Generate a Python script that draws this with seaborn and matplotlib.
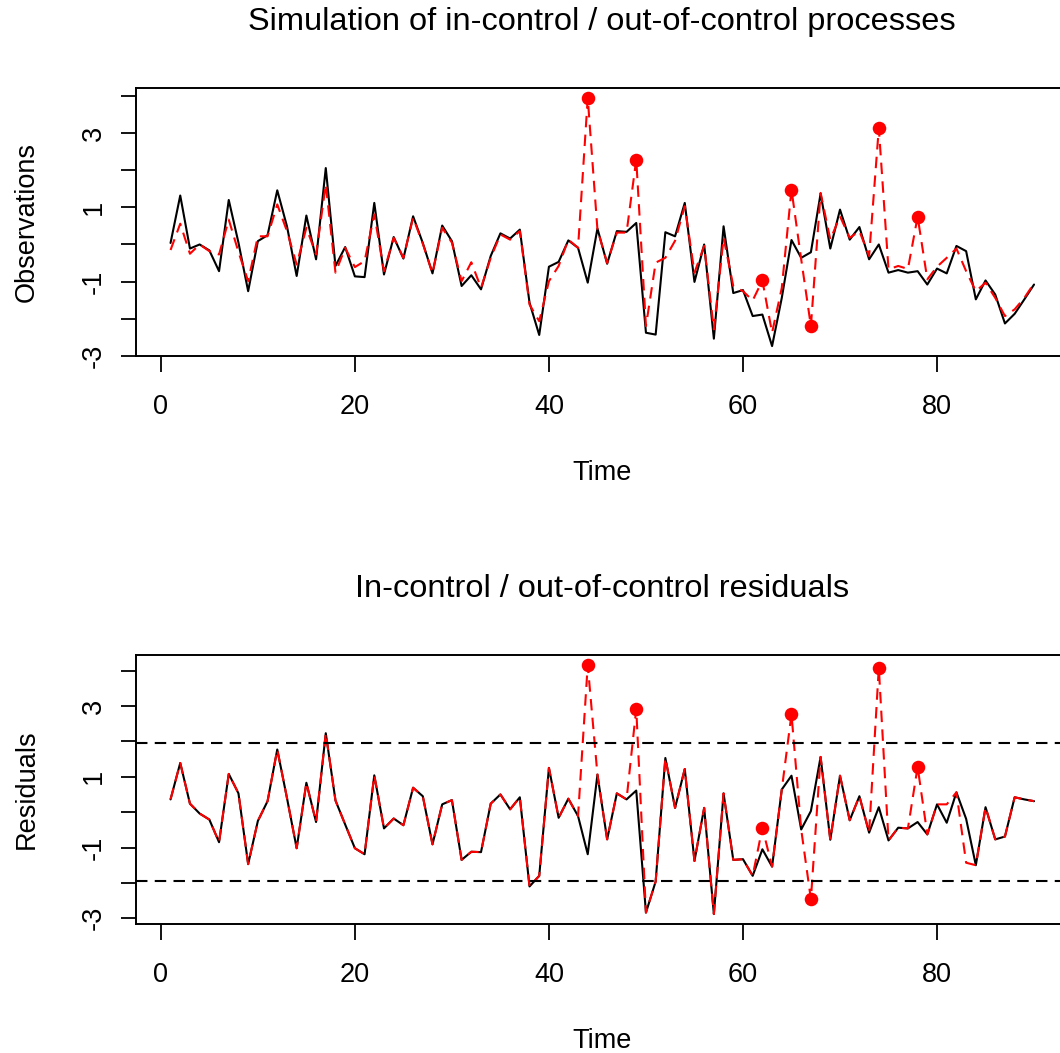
import numpy as np
import pandas as pd
import matplotlib
matplotlib.use("Agg")
import matplotlib.pyplot as plt
import seaborn as sns

# time index
time = list(range(1, 91))

# simulated observations: in-control (black) / out-of-control (red)
obs_in = [0.04, 1.32, -0.11, 0.00, -0.16, -0.72, 1.20, 0.05, -1.26, 0.09,
          0.25, 1.46, 0.49, -0.85, 0.78, -0.40, 2.06, -0.58, -0.07, -0.86,
          -0.88, 1.12, -0.81, 0.20, -0.38, 0.76, 0.04, -0.78, 0.51, 0.09,
          -1.12, -0.83, -1.21, -0.31, 0.30, 0.16, 0.40, -1.57, -2.44, -0.60,
          -0.47, 0.11, -0.09, -1.03, 0.43, -0.52, 0.36, 0.34, 0.58, -2.38,
          -2.43, 0.33, 0.22, 1.12, -1.01, 0.00, -2.54, 0.49, -1.31, -1.23,
          -1.93, -1.89, -2.74, -1.44, 0.12, -0.36, -0.21, 1.37, -0.11, 0.94,
          0.13, 0.47, -0.40, 0.00, -0.76, -0.69, -0.76, -0.72, -1.08, -0.65,
          -0.78, -0.04, -0.18, -1.48, -0.97, -1.35, -2.13, -1.87, -1.48, -1.08]
obs_out = [-0.15, 0.56, -0.25, 0.00, -0.18, -0.27, 0.67, -0.20, -0.99, 0.22,
           0.22, 1.08, 0.36, -0.54, 0.45, -0.27, 1.62, -0.76, -0.09, -0.61,
           -0.45, 0.81, -0.72, 0.18, -0.36, 0.72, 0.02, -0.78, 0.45, 0.05,
           -0.99, -0.48, -1.17, -0.36, 0.27, 0.13, 0.36, -1.62, -2.07, -0.99,
           -0.58, 0.13, -0.09, 3.95, 0.40, -0.50, 0.32, 0.32, 2.29, -2.20,
           -0.49, -0.36, 0.10, 1.03, -0.76, -0.04, -2.29, 0.18, -1.12, -1.26,
           -1.51, -0.97, -2.38, -1.17, 1.48, -0.40, -2.20, 1.39, 0.13, 0.76,
           0.18, 0.36, -0.31, 3.14, -0.67, -0.58, -0.66, 0.75, -0.94, -0.60,
           -0.36, -0.11, -0.72, -1.26, -1.03, -1.44, -1.93, -1.75, -1.44, -1.05]

# residuals: in-control (black) / out-of-control (red)
res_in = [0.36, 1.39, 0.24, -0.04, -0.21, -0.85, 1.08, 0.53, -1.47, -0.25,
          0.31, 1.77, 0.40, -1.02, 0.83, -0.28, 2.23, 0.33, -0.35, -1.02,
          -1.19, 1.04, -0.46, -0.18, -0.37, 0.69, 0.45, -0.91, 0.22, 0.34,
          -1.35, -1.12, -1.13, 0.24, 0.50, 0.08, 0.42, -2.10, -1.80, 1.25,
          -0.16, 0.38, -0.11, -1.19, 1.06, -0.77, 0.53, 0.36, 0.61, -2.84,
          -1.96, 1.53, 0.12, 1.22, -1.38, 0.12, -2.88, 0.53, -1.35, -1.33,
          -1.80, -1.05, -1.54, 0.64, 1.03, -0.49, 0.03, 1.56, -0.78, 1.03,
          -0.23, 0.45, -0.58, 0.14, -0.80, -0.44, -0.46, -0.28, -0.63, 0.22,
          -0.30, 0.56, -0.19, -1.50, 0.14, -0.77, -0.69, 0.42, 0.36, 0.31]
res_out = [0.36, 1.39, 0.24, -0.04, -0.21, -0.85, 1.08, 0.53, -1.47, -0.25,
           0.31, 1.77, 0.40, -1.02, 0.83, -0.28, 2.23, 0.33, -0.35, -1.02,
           -1.19, 1.04, -0.46, -0.18, -0.37, 0.69, 0.45, -0.91, 0.22, 0.34,
           -1.35, -1.12, -1.13, 0.24, 0.50, 0.08, 0.42, -2.10, -1.80, 1.25,
           -0.16, 0.38, -0.11, 4.16, 1.06, -0.77, 0.53, 0.36, 2.92, -2.84,
           -1.96, 1.53, 0.12, 1.22, -1.38, 0.12, -2.88, 0.53, -1.35, -1.33,
           -1.80, -0.44, -1.54, 0.64, 2.77, -0.49, -2.46, 1.56, -0.78, 1.03,
           -0.23, 0.45, -0.58, 4.08, -0.80, -0.44, -0.46, 1.28, -0.63, 0.22,
           0.22, 0.56, -1.43, -1.50, 0.14, -0.77, -0.69, 0.42, 0.36, 0.31]

# time points of the outliers
outliers = [44, 49, 62, 65, 67, 74, 78]
limit = 1.96

sns.set_style("ticks")
plt.rcParams['font.family'] = ['Liberation Sans', 'DejaVu Sans']
plt.rcParams['text.color'] = 'black'
plt.rcParams['axes.labelcolor'] = 'black'

fig = plt.figure(figsize=(10.6, 10.53), dpi=100)
ax1 = fig.add_axes([0.1283, 0.6619, 0.8798, 0.2545])
ax2 = fig.add_axes([0.1283, 0.1225, 0.8798, 0.2555])

dash = (0, (5.5, 3.5))


def r_lim(*series):
    lo = min(min(s) for s in series)
    hi = max(max(s) for s in series)
    pad = 0.04 * (hi - lo)
    return lo - pad, hi + pad


def style_axes(ax, title, ylabel, ylim):
    ax.set_xlim(1 - 0.04 * 89, 90 + 0.04 * 89)
    ax.set_ylim(*ylim)
    ax.set_xticks([0, 20, 40, 60, 80])
    ax.set_yticks(range(-3, 5))
    ax.set_yticklabels(['-3', '', '-1', '', '1', '', '3', ''])
    ax.tick_params(axis='x', length=11.5, width=1.3, labelsize=19.5, pad=16,
                   direction='out', colors='black')
    ax.tick_params(axis='y', length=11, width=1.3, labelsize=19.5, pad=10,
                   direction='out', colors='black', labelrotation=90)
    for lab in ax.get_yticklabels():
        lab.set_va('center')
    for sp in ax.spines.values():
        sp.set_visible(True)
        sp.set_linewidth(1.4)
        sp.set_color('black')
    ax.set_title(title, fontsize=23.4, pad=42, color='black')
    ax.set_xlabel('Time', fontsize=19.5, va='baseline')
    ax.xaxis.set_label_coords(0.5, -0.462)
    ax.set_ylabel(ylabel, fontsize=19.5, va='center')
    ax.yaxis.set_label_coords(-0.1175, 0.5)


# top panel: observations
out_obs = [obs_out[t - 1] for t in outliers]
sns.lineplot(x=time, y=obs_in, ax=ax1, color='black', linewidth=1.5)
sns.lineplot(x=time, y=obs_out, ax=ax1, color='red', linewidth=1.5,
             linestyle=dash)
sns.scatterplot(x=outliers, y=out_obs, ax=ax1, color='red', s=95,
                linewidth=0, zorder=4)
style_axes(ax1, 'Simulation of in-control / out-of-control processes',
           'Observations', r_lim(obs_in, obs_out))

# bottom panel: residuals
out_res = [res_out[t - 1] for t in outliers]
sns.lineplot(x=time, y=res_in, ax=ax2, color='black', linewidth=1.5)
sns.lineplot(x=time, y=res_out, ax=ax2, color='red', linewidth=1.5,
             linestyle=dash)
sns.scatterplot(x=outliers, y=out_res, ax=ax2, color='red', s=95,
                linewidth=0, zorder=4)
ax2.axhline(limit, color='black', linewidth=1.5, linestyle=dash)
ax2.axhline(-limit, color='black', linewidth=1.5, linestyle=dash)
style_axes(ax2, 'In-control / out-of-control residuals', 'Residuals',
           r_lim(res_in, res_out))

fig.savefig('out.png', dpi=100)
